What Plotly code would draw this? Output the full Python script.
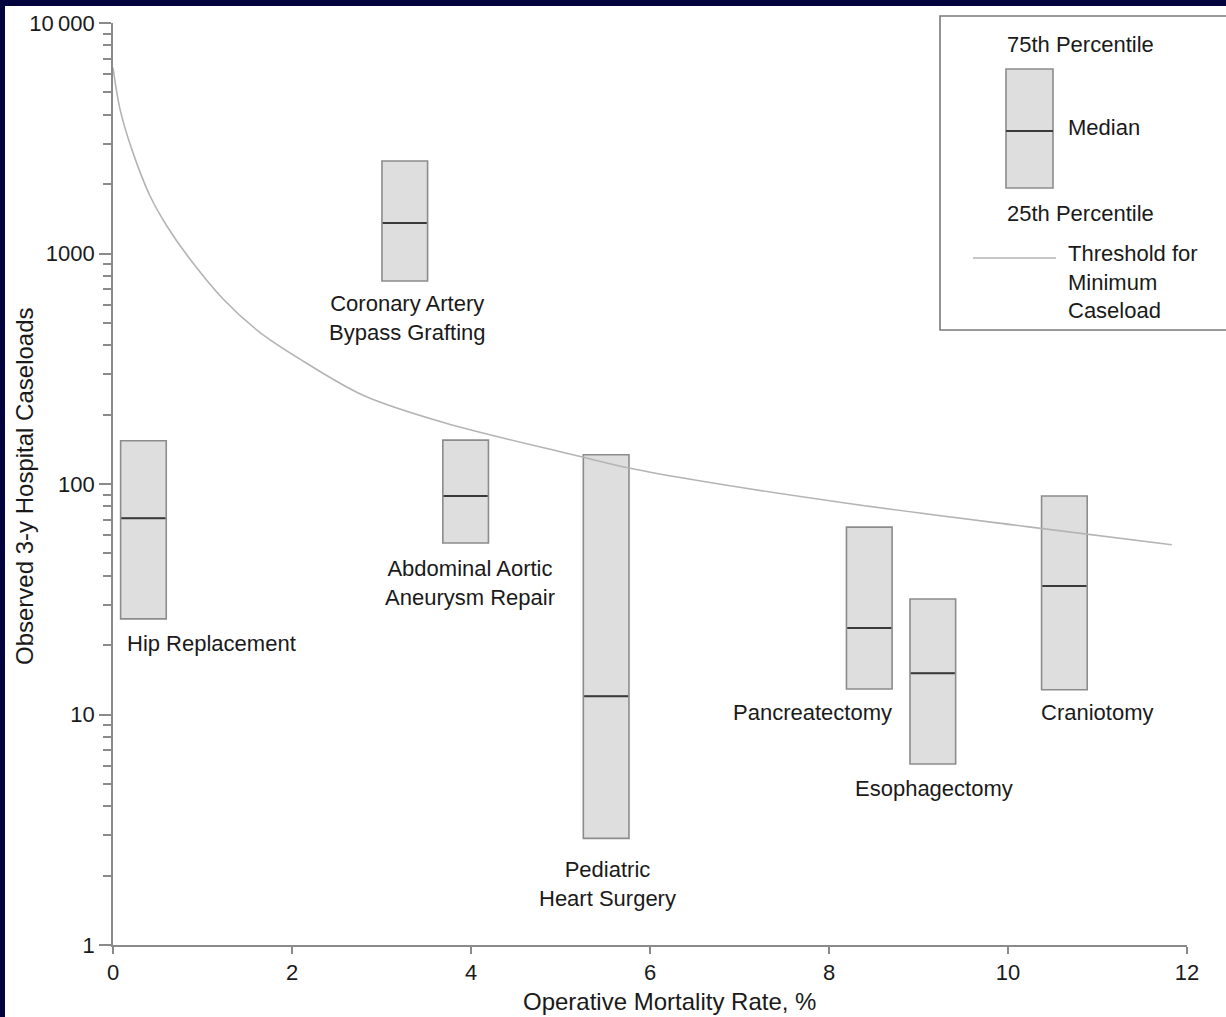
import plotly.graph_objects as go

# ---------------- data ----------------
procedures = ["Hip Replacement", "Coronary Artery<br>Bypass Grafting", "Abdominal Aortic<br>Aneurysm Repair",
              "Pediatric<br>Heart Surgery", "Pancreatectomy", "Esophagectomy", "Craniotomy"]
mortality = [0.34, 3.26, 3.94, 5.51, 8.45, 9.16, 10.63]
q1 = [26, 760, 55.5, 2.9, 12.9, 6.1, 12.8]
median = [71, 1356, 88.7, 12.0, 23.7, 15.1, 36.1]
q3 = [154, 2520, 155, 134, 65, 31.7, 88.7]

# label anchor positions (x in %, y as log10 of caseload)
label_x = [1.095, 3.285, 3.99, 5.52, 7.81, 9.17, 10.99]
label_logy = [1.31, 2.722, 1.57, 0.265, 1.007, 0.681, 1.007]

threshold_x = [0, 0.08, 0.22, 0.41, 0.6, 0.83, 1.23, 1.64, 2.09, 2.8, 3.73, 5.14, 5.78, 6.5, 8.2, 10.21, 11.83]
threshold_y = [6400, 4200, 2760, 1790, 1320, 980, 635, 455, 348, 242, 183, 134, 117, 104, 82.5, 65.3, 54.5]

x_ticks = [0, 2, 4, 6, 8, 10, 12]
y_major = [1, 10, 100, 1000, 10000]
y_major_text = ["1", "10", "100", "1000", "10\u2009000"]
y_minor = [m * d for d in [1, 10, 100, 1000] for m in range(2, 10)]

# ---------------- style ----------------
W, H = 1226, 1017
ML, MR, MT, MB = 113, 39, 23, 72
PW, PH = W - ML - MR, H - MT - MB
FONT = "Liberation Sans, Arial, Helvetica, sans-serif"
TXT = "#1a1a1a"
AXC = "#8a8a8a"
BOXFILL = "#dedede"
BOXLINE = "#8c8c8c"
MEDC = "#3a3a3a"
CURVE = "#b4b4b4"
NAVY = "#03033e"
BOX_W = 0.51


def px_x(px):
    return (px - ML) / PW


def px_y(py):
    return (H - MB - py) / PH


fig = go.Figure()

# threshold curve
fig.add_trace(go.Scatter(x=threshold_x, y=threshold_y, mode="lines",
                         line=dict(color=CURVE, width=1.6, shape="spline", smoothing=0.9),
                         hoverinfo="skip", showlegend=False))

# boxes
for i in range(len(procedures)):
    fig.add_trace(go.Box(x=[mortality[i]], q1=[q1[i]], median=[median[i]], q3=[q3[i]],
                         lowerfence=[q1[i]], upperfence=[q3[i]], width=BOX_W,
                         fillcolor=BOXFILL, line=dict(color=BOXLINE, width=1.6),
                         whiskerwidth=0, showlegend=False, hoverinfo="skip"))
    fig.add_trace(go.Scatter(x=[mortality[i] - BOX_W / 2 + 0.01, mortality[i] + BOX_W / 2 - 0.01],
                             y=[median[i], median[i]], mode="lines",
                             line=dict(color=MEDC, width=2), showlegend=False, hoverinfo="skip"))

annotations = []
for name, lx, ly in zip(procedures, label_x, label_logy):
    annotations.append(dict(x=lx, y=ly, xref="x", yref="y", text=name, showarrow=False,
                            xanchor="center", yanchor="middle",
                            font=dict(size=22, color=TXT, family=FONT), align="center"))

# axis titles
annotations.append(dict(x=px_x(669), y=px_y(1001), xref="paper", yref="paper",
                        xanchor="center", yanchor="middle",
                        text="Operative Mortality Rate, %", showarrow=False,
                        font=dict(size=24, color=TXT, family=FONT)))
annotations.append(dict(x=px_x(25), y=px_y(486), xref="paper", yref="paper", textangle=-90,
                        xanchor="center", yanchor="middle",
                        text="Observed 3-y Hospital Caseloads", showarrow=False,
                        font=dict(size=24, color=TXT, family=FONT)))

# legend (drawn)
lfont = dict(size=22, color=TXT, family=FONT)
annotations += [
    dict(x=px_x(1005), y=px_y(44), xref="paper", yref="paper", text="75th Percentile",
         showarrow=False, xanchor="left", yanchor="middle", font=lfont),
    dict(x=px_x(1066), y=px_y(128), xref="paper", yref="paper", text="Median",
         showarrow=False, xanchor="left", yanchor="middle", font=lfont),
    dict(x=px_x(1005), y=px_y(213), xref="paper", yref="paper", text="25th Percentile",
         showarrow=False, xanchor="left", yanchor="middle", font=lfont),
    dict(x=px_x(1066), y=px_y(282), xref="paper", yref="paper",
         text="Threshold for<br>Minimum<br>Caseload", align="left",
         showarrow=False, xanchor="left", yanchor="middle", font=lfont),
]

shapes = [
    # navy frame (top & left)
    dict(type="rect", xref="paper", yref="paper", x0=px_x(-5), x1=px_x(W + 5), y0=px_y(6), y1=px_y(-5),
         fillcolor=NAVY, line=dict(width=0), layer="above"),
    dict(type="rect", xref="paper", yref="paper", x0=px_x(-5), x1=px_x(5), y0=px_y(H + 5), y1=px_y(-5),
         fillcolor=NAVY, line=dict(width=0), layer="above"),
    # legend frame
    dict(type="rect", xref="paper", yref="paper", x0=px_x(940), x1=px_x(W + 10), y0=px_y(330), y1=px_y(16),
         fillcolor="white", line=dict(color="#7a7a7a", width=1.6), layer="above"),
    dict(type="rect", xref="paper", yref="paper", x0=px_x(1006), x1=px_x(1053), y0=px_y(188), y1=px_y(69),
         fillcolor=BOXFILL, line=dict(color=BOXLINE, width=1.6), layer="above"),
    dict(type="line", xref="paper", yref="paper", x0=px_x(1006), x1=px_x(1053), y0=px_y(131), y1=px_y(131),
         line=dict(color=MEDC, width=2), layer="above"),
    dict(type="line", xref="paper", yref="paper", x0=px_x(973), x1=px_x(1056), y0=px_y(258), y1=px_y(258),
         line=dict(color=CURVE, width=1.6), layer="above"),
]

fig.update_layout(
    width=W, height=H,
    margin=dict(l=ML, r=MR, t=MT, b=MB, autoexpand=False),
    paper_bgcolor="white", plot_bgcolor="white",
    showlegend=False,
    annotations=annotations, shapes=shapes,
    font=dict(family=FONT, color=TXT),
)

fig.update_xaxes(range=[0, 12], tickvals=x_ticks, ticktext=[str(v) for v in x_ticks],
                 showgrid=False, zeroline=False, showline=True, linecolor=AXC, linewidth=1.6,
                 ticks="outside", ticklen=7, tickwidth=1.6, tickcolor=AXC,
                 tickfont=dict(size=22, color=TXT, family=FONT), automargin=False)
fig.update_yaxes(type="log", range=[0, 4], tickvals=y_major, ticktext=y_major_text,
                 showgrid=False, zeroline=False, showline=True, linecolor=AXC, linewidth=1.6,
                 ticks="outside", ticklen=12, tickwidth=1.6, tickcolor=AXC,
                 minor=dict(tickvals=y_minor, ticks="outside", ticklen=8, tickwidth=1.6,
                            tickcolor=AXC, showgrid=False),
                 tickfont=dict(size=22, color=TXT, family=FONT), automargin=False)

fig.write_html("out.html", config={"displayModeBar": False},
               post_script="document.body.style.margin='0';")
